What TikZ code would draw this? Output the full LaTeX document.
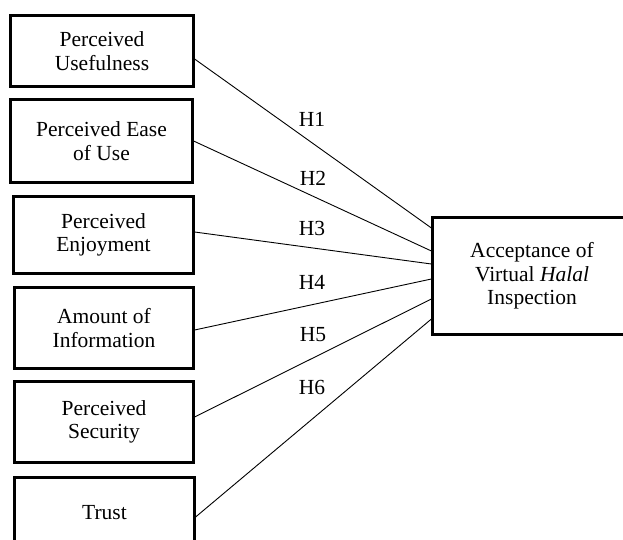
\documentclass[tikz,border=0pt]{standalone}
\usepackage{fontspec}
\setmainfont{Liberation Serif}
\usetikzlibrary{calc}

\begin{document}
\begin{tikzpicture}[x=1pt, y=-1pt,
		factor/.style={draw, line width=2.2pt, align=center, inner sep=0pt,
			font=\fontsize{21.5}{23.5}\selectfont},
		path/.style={line width=0.9pt},
		hyp/.style={font=\fontsize{21.5}{23.5}\selectfont, inner sep=0pt}]
			%%%%% START %%%%%
			\useasboundingbox (0, 0) rectangle (623, 540);
			
			\node[factor, minimum width=183, minimum height=71] (pu) at (102, 51) {Perceived\\Usefulness};
			\node[factor, minimum width=182, minimum height=83] (peou) at (101.5, 141) {Perceived Ease\\of Use};
			\node[factor, minimum width=180, minimum height=77] (pe) at (103.5, 235) {Perceived\\Enjoyment};
			\node[factor, minimum width=179, minimum height=81] (ai) at (104, 328) {Amount of\\Information};
			\node[factor, minimum width=179, minimum height=81] (ps) at (104, 422) {Perceived\\Security};
			\node[factor, minimum width=180, minimum height=71] (tr) at (104.5, 513) {Trust};
			
			\node[factor, minimum width=199, minimum height=117] (acc) at (532, 276) {Acceptance of\\Virtual \textit{Halal}\\Inspection};
			
			\draw[path] ([yshift=-8]pu.east) -- ([yshift=48]acc.west);
			\draw[path] (peou.east) -- ([yshift=25]acc.west);
			\draw[path] ([yshift=3]pe.east) -- ([yshift=12]acc.west);
			\draw[path] ([yshift=-2]ai.east) -- ([yshift=-3]acc.west);
			\draw[path] ([yshift=5]ps.east) -- ([yshift=-23]acc.west);
			\draw[path] ([yshift=-4]tr.east) -- ([yshift=-43]acc.west);
			
			\node[hyp] (h1) at (312, 119) {H1};
			\node[hyp] (h2) at (313, 178) {H2};
			\node[hyp] (h3) at (312, 228) {H3};
			\node[hyp] (h4) at (312, 282) {H4};
			\node[hyp] (h5) at (313, 335) {H5};
			\node[hyp] (h6) at (312, 387) {H6};
			
			%%%%% END %%%%%
		\end{tikzpicture}
\end{document}
